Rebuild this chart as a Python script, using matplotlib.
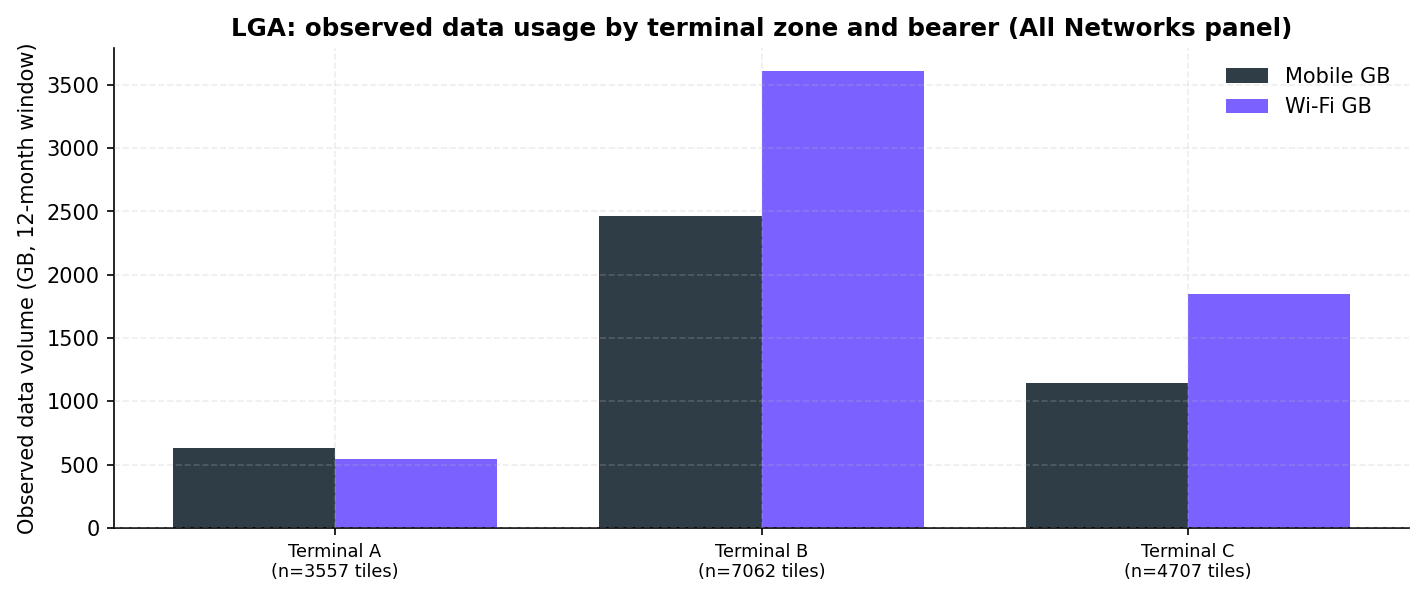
import numpy as np
import matplotlib.pyplot as plt

zones = ["Terminal A", "Terminal B", "Terminal C"]
tiles = [3557, 7062, 4707]
mobile_gb = [632, 2465, 1146]
wifi_gb = [545, 3611, 1849]

plt.rcParams.update({
    "font.family": "DejaVu Sans",
})

fig, ax = plt.subplots(figsize=(9.5, 3.987), dpi=150)

x = np.arange(len(zones))
w = 0.38
ax.bar(x - w / 2, mobile_gb, width=w, color="#2f3d46", label="Mobile GB")
ax.bar(x + w / 2, wifi_gb, width=w, color="#7b61ff", label="Wi-Fi GB")

ax.set_xticks(x)
ax.set_xticklabels([f"{z}\n(n={n} tiles)" for z, n in zip(zones, tiles)], fontsize=8.5)
ax.tick_params(axis="y", labelsize=10)
ax.set_ylabel("Observed data volume (GB, 12-month window)", fontsize=10)
ax.set_title("LGA: observed data usage by terminal zone and bearer (All Networks panel)",
             fontsize=11.8, fontweight="bold")

ax.grid(True, linestyle="--", alpha=0.25, color="#bbbbbb")
ax.set_axisbelow(False)
ax.spines["top"].set_visible(False)
ax.spines["right"].set_visible(False)
ax.legend(frameon=False, fontsize=10, loc="upper right")

fig.subplots_adjust(left=0.080, right=0.9888, top=0.9197, bottom=0.1171)
plt.savefig("out.png", dpi=150)
